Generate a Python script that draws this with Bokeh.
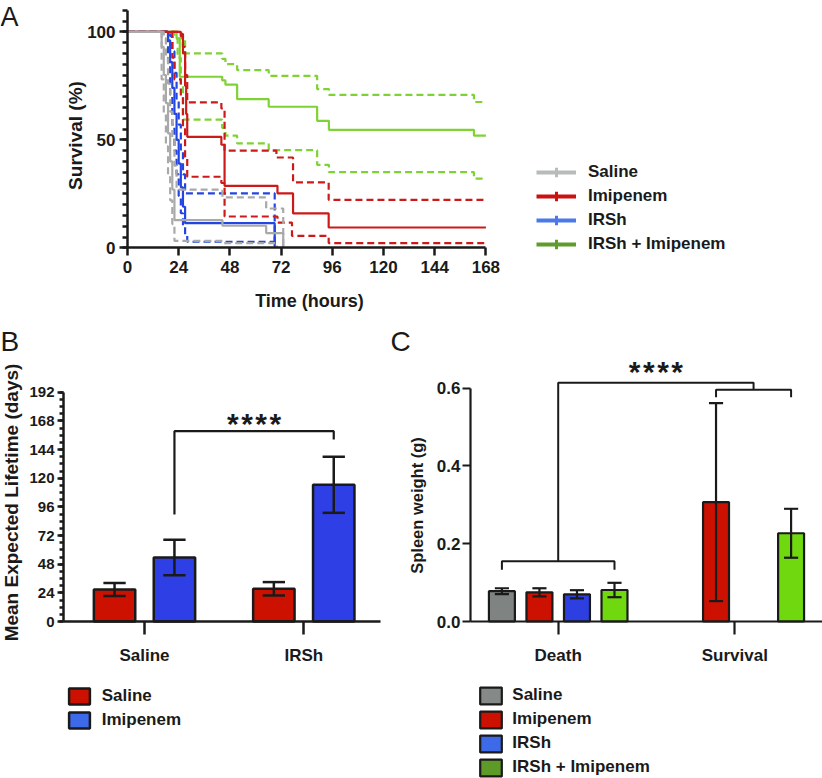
import math
from bokeh.plotting import figure
from bokeh.layouts import column, row
from bokeh.models import (Range1d, FixedTicker, Legend, LegendItem, Label, NumeralTickFormatter)
from bokeh.core.properties import value
from bokeh.embed import file_html
from bokeh.resources import INLINE

FONT = "Liberation Sans"
INK = "#1a1a1a"

# ---------------- Panel A : Kaplan-Meier survival (median + CI bounds) ----------------
surv_labels = ["Saline", "Imipenem", "IRSh", "IRSh + Imipenem"]
time_ticks = [0, 24, 48, 72, 96, 120, 144, 168]
surv_ticks = [0, 50, 100]

saline_mid_t = [0, 16, 17, 18, 19, 20, 21, 22, 44.5, 65, 73]
saline_mid_s = [100, 93, 80, 67, 53, 40, 27, 12.8, 10.2, 6.8, 0]
saline_hi_t = [0, 17, 18, 19, 20, 21, 22, 23, 44.5, 65, 73]
saline_hi_s = [100, 97, 88, 76, 63, 50, 38, 26.9, 23.3, 18.2, 0]
saline_lo_t = [0, 16, 17, 18, 19, 20, 21, 22, 44.5, 70]
saline_lo_s = [100, 78, 62, 47, 34, 22, 11, 3.2, 2.2, 0]

irsh_mid_t = [0, 19, 20, 21, 22, 23, 24, 25, 26, 27, 69]
irsh_mid_s = [100, 96, 86, 74, 62, 50, 39, 28, 19, 11.4, 0]
irsh_hi_t = [0, 20, 21, 22, 23, 24, 25, 26, 27, 69]
irsh_hi_s = [100, 98, 91, 81, 69, 57, 45, 34, 25.2, 0]
irsh_lo_t = [0, 19, 20, 21, 22, 23, 24, 25, 26, 27, 28, 69]
irsh_lo_s = [100, 86, 71, 57, 45, 34, 24, 16, 10, 5.5, 2.8, 0]

imip_mid_t = [0, 25, 26, 27, 27.5, 28, 44, 45.5, 70.3, 77.6, 94.3, 168]
imip_mid_s = [100, 98, 90, 75, 62, 51.4, 47.7, 28.7, 25.2, 15.9, 9.4, 9.4]
imip_hi_t = [0, 25, 26, 27, 28, 44, 45.5, 69.8, 77.6, 94.3, 168]
imip_hi_s = [100, 99, 93, 80, 67.3, 64.5, 45, 41.8, 30.3, 22.2, 22.2]
imip_lo_t = [0, 21, 22, 25, 26, 27, 28, 44, 45.5, 70.3, 77.1, 94.3, 168]
imip_lo_s = [100, 88, 78, 70, 55, 42, 32.9, 30, 14.5, 11.7, 5.5, 2.2, 2.2]

combo_mid_t = [0, 23, 24.5, 44.4, 45.9, 51.4, 66.2, 88.9, 94.4, 162.4, 168]
combo_mid_s = [100, 97, 79.2, 77.5, 75.5, 68.8, 65.3, 58.8, 54.6, 51.9, 51.9]
combo_hi_t = [0, 24, 25, 27, 44.4, 45.9, 51.4, 66.2, 88.9, 94.4, 162.4, 168]
combo_hi_s = [100, 99, 97, 90, 87.5, 85, 82.3, 79.6, 73.5, 70.8, 67.5, 67.5]
combo_lo_t = [0, 22, 23.5, 25, 26, 44.4, 45.9, 51.4, 66.2, 88.9, 94.4, 162.4, 168]
combo_lo_s = [100, 97, 88, 76, 59.3, 55.5, 51.9, 48.3, 45.2, 38.4, 35, 32, 32]

# ---------------- Panel B : mean expected lifetime ----------------
b_groups = ["Saline", "IRSh"]
b_treatments = ["Saline", "Imipenem"]
b_saline_mean = [26.8, 27.4]
b_saline_err = [5.5, 5.6]
b_imip_mean = [53.6, 114.5]
b_imip_err = [14.8, 23.5]
b_ticks = [0, 24, 48, 72, 96, 120, 144, 168, 192]
b_sig_ends = [89.6, 152.4]
b_sig_top = 159.4
SIG = "*\u200a*\u200a*\u200a*"

# ---------------- Panel C : spleen weight ----------------
c_groups = ["Death", "Survival"]
c_treatments = ["Saline", "Imipenem", "IRSh", "IRSh + Imipenem"]
c_death_mean = [0.078, 0.075, 0.070, 0.081]
c_death_err = [0.0075, 0.0105, 0.0105, 0.0185]
c_surv_mean = [None, 0.307, None, 0.227]
c_surv_err = [None, 0.2545, None, 0.063]
c_ticks = [0.0, 0.2, 0.4, 0.6]
c_low_bracket = [0.133, 0.155]
c_top_bracket = 0.614
c_small_bracket = [0.577, 0.596]

# ---------------- styling ----------------
curve_colors = ["#a9a9a9", "#cc1a1a", "#2446e0", "#7fd234"]
legA_colors = ["#b7bcba", "#cc1111", "#4a7ae8", "#5e9c2c"]
b_colors = ["#cc1100", "#2e3fe5"]
b_leg_colors = ["#cc1100", "#3d6ae8"]
c_colors = ["#7f8482", "#cc1100", "#2d3fe0", "#6fd80f"]
c_leg_colors = ["#858a88", "#cc1100", "#3d6ae8", "#5e9a28"]


def style_axis(ax, size, lw=2.5):
    ax.axis_line_width = lw
    ax.axis_line_color = INK
    ax.major_tick_line_width = lw
    ax.minor_tick_line_width = lw
    ax.major_tick_line_color = INK
    ax.minor_tick_line_color = INK
    ax.major_tick_in = 0
    ax.minor_tick_in = 0
    ax.major_label_text_font = FONT
    ax.major_label_text_font_style = "bold"
    ax.major_label_text_font_size = f"{size}px"
    ax.major_label_text_color = INK


def base_fig(w, h, xr, yr):
    # frame covers the whole canvas; axes are pinned with fixed_location
    p = figure(width=w, height=h, x_range=Range1d(*xr), y_range=Range1d(*yr),
               output_backend="svg", toolbar_location=None,
               min_border_left=0, min_border_right=0, min_border_top=0, min_border_bottom=0)
    p.outline_line_color = None
    p.grid.visible = False
    p.background_fill_color = "white"
    p.border_fill_color = "white"
    return p


def text_label(p, text, sx, sy, size, angle=0.0, bold=True, align="center"):
    # sx, sy: pixels from the canvas left / top (text centred vertically on sy)
    p.add_layout(Label(x=sx, y=p.height - sy, x_units="screen", y_units="screen", text=text,
                       angle=angle, text_align=align, text_baseline="middle",
                       text_font=FONT, text_font_size=f"{size}px",
                       text_font_style="bold" if bold else "normal", text_color=INK))


def legend(items, loc, gw, gh, sp, standoff):
    return Legend(items=items, location=loc, orientation="vertical",
                  glyph_width=gw, glyph_height=gh, label_height=gh, spacing=sp, padding=0, margin=0,
                  label_standoff=standoff, border_line_color=None, background_fill_alpha=0,
                  inactive_fill_alpha=0,
                  label_text_font=FONT, label_text_font_style="bold", label_text_font_size="17px",
                  label_text_color=INK)


def stars(p, x, y, dy):
    p.text(x=[x], y=[y], y_offset=[dy], text=[SIG], text_align="center", text_baseline="middle",
           text_font=value(FONT), text_font_style="bold", text_font_size="30px", text_color=INK)


# ================= Figure A =================
A_W, A_H = 822, 326
ax_px = 51.2 / 24          # px per hour
ay_px = 2.16               # px per percent
A_x0, A_y0 = 127, 247.3    # pixel position of (0, 0)
pA = base_fig(A_W, A_H, (-A_x0 / ax_px, (A_W - A_x0) / ax_px), (-(A_H - A_y0) / ay_px, A_y0 / ay_px))
style_axis(pA.xaxis[0], 17)
style_axis(pA.yaxis[0], 17)
pA.xaxis.fixed_location = 0
pA.xaxis.ticker = FixedTicker(ticks=time_ticks)
pA.xaxis.bounds = (0, 168)
pA.xaxis.major_tick_out = 8
pA.xaxis.major_label_standoff = 5
pA.yaxis.fixed_location = 0
pA.yaxis.ticker = FixedTicker(ticks=surv_ticks, minor_ticks=list(range(0, 111, 5)))
pA.yaxis.bounds = (0, 110)
pA.yaxis.major_tick_out = 8
pA.yaxis.minor_tick_out = 5
pA.yaxis.major_label_standoff = 4

curves = [
    (combo_lo_t, combo_lo_s, 3, True), (combo_hi_t, combo_hi_s, 3, True), (combo_mid_t, combo_mid_s, 3, False),
    (irsh_lo_t, irsh_lo_s, 2, True), (irsh_hi_t, irsh_hi_s, 2, True), (irsh_mid_t, irsh_mid_s, 2, False),
    (imip_lo_t, imip_lo_s, 1, True), (imip_hi_t, imip_hi_s, 1, True), (imip_mid_t, imip_mid_s, 1, False),
    (saline_lo_t, saline_lo_s, 0, True), (saline_hi_t, saline_hi_s, 0, True), (saline_mid_t, saline_mid_s, 0, False),
]
for t, s, gi, dashed in curves:
    pA.step(t, s, mode="after", line_color=curve_colors[gi], line_width=2.2,
            line_dash="7 4" if dashed else "solid")

itemsA = []
for lab, col in zip(surv_labels, legA_colors):
    r1 = pA.line([0, 1], [0, 0], line_color=col, line_width=4, visible=False)
    r2 = pA.scatter([0], [0], marker="cross", line_color=col, line_width=3, size=10, visible=False)
    itemsA.append(LegendItem(label=lab, renderers=[r1, r2]))
pA.add_layout(legend(itemsA, (536, A_H - 255.5), 40, 24, 0, 12))
text_label(pA, "Time (hours)", 309, 300, 18)
text_label(pA, "Survival (%)", 75, 135, 19, angle=math.pi / 2)
text_label(pA, "A", 0, 16.5, 27, bold=False, align="left")

# ================= Figure B =================
TOP2 = A_H                 # page y of the second row
B_W, B_H = 390, 778 - TOP2
bx_px = 159.3              # px per group
by_px = 1.194              # px per day-unit
B_x0, B_y0 = 144, 621 - TOP2
pB = base_fig(B_W, B_H, (-B_x0 / bx_px, (B_W - B_x0) / bx_px), (-(B_H - B_y0) / by_px, B_y0 / by_px))
b_left = (63 - B_x0) / bx_px
b_right = (380 - B_x0) / bx_px
style_axis(pB.xaxis[0], 17)
style_axis(pB.yaxis[0], 15)
pB.xaxis.fixed_location = 0
pB.xaxis.bounds = (b_left, b_right)
pB.xaxis.ticker = FixedTicker(ticks=list(range(len(b_groups))))
pB.xaxis.major_label_overrides = {i: g for i, g in enumerate(b_groups)}
pB.xaxis.major_tick_out = 13
pB.xaxis.major_label_standoff = 11
pB.yaxis.fixed_location = b_left
pB.yaxis.bounds = (0, 192)
pB.yaxis.ticker = FixedTicker(ticks=b_ticks, minor_ticks=list(range(0, 193, 6)))
pB.yaxis.major_tick_out = 6
pB.yaxis.minor_tick_out = 4
pB.yaxis.major_label_standoff = 3

b_off = 0.188
b_w = 0.26
b_cap = 0.07
b_series = [(b_saline_mean, b_saline_err, -b_off), (b_imip_mean, b_imip_err, b_off)]
itemsB = []
for k, (m, e, off) in enumerate(b_series):
    xs = [i + off for i in range(len(b_groups))]
    pB.vbar(x=xs, top=m, width=b_w, fill_color=b_colors[k], line_color=INK, line_width=2.5)
    lo = [mm - ee for mm, ee in zip(m, e)]
    hi = [mm + ee for mm, ee in zip(m, e)]
    pB.segment(x0=xs, y0=lo, x1=xs, y1=hi, line_color=INK, line_width=2.5)
    pB.segment(x0=[x - b_cap for x in xs], y0=hi, x1=[x + b_cap for x in xs], y1=hi, line_color=INK, line_width=2.5)
    pB.segment(x0=[x - b_cap for x in xs], y0=lo, x1=[x + b_cap for x in xs], y1=lo, line_color=INK, line_width=2.5)
    rl = pB.vbar(x=[0], top=[1], width=b_w, fill_color=b_leg_colors[k], line_color=INK, line_width=2.5,
                 visible=False)
    itemsB.append(LegendItem(label=b_treatments[k], renderers=[rl]))

bx0, bx1 = 0 + b_off, 1 + b_off
pB.line([bx0, bx0, bx1, bx1], [b_sig_ends[0], b_sig_top, b_sig_top, b_sig_ends[1]], line_color=INK, line_width=2.2)
stars(pB, (bx0 + bx1) / 2, b_sig_top, -8)
pB.add_layout(legend(itemsB, (65.7, B_H - (730 - TOP2)), 26, 20, 4, 10))
text_label(pB, "Mean Expected Lifetime (days)", 11, 502 - TOP2, 19, angle=math.pi / 2)
text_label(pB, "B", 0, 341 - TOP2, 28, bold=False, align="left")

# ================= Figure C =================
C_W, C_H = 432, 778 - TOP2
cx_px = 176.6              # px per group
cy_px = 388.8              # px per gram
C_x0, C_y0 = 167.7, 621 - TOP2
pC = base_fig(C_W, C_H, (-C_x0 / cx_px, (C_W - C_x0) / cx_px), (-(C_H - C_y0) / cy_px, C_y0 / cy_px))
c_left = (80 - C_x0) / cx_px
c_right = (C_W - C_x0) / cx_px
style_axis(pC.xaxis[0], 17, lw=2.2)
style_axis(pC.yaxis[0], 17, lw=2.2)
pC.xaxis.fixed_location = 0
pC.xaxis.bounds = (c_left, c_right)
pC.xaxis.ticker = FixedTicker(ticks=list(range(len(c_groups))))
pC.xaxis.major_label_overrides = {i: g for i, g in enumerate(c_groups)}
pC.xaxis.major_tick_out = 13
pC.xaxis.major_label_standoff = 11
pC.yaxis.fixed_location = c_left
pC.yaxis.ticker = FixedTicker(ticks=c_ticks, minor_ticks=[])
pC.yaxis.bounds = (0, 0.6)
pC.yaxis.formatter = NumeralTickFormatter(format="0.0")
pC.yaxis.major_tick_out = 8
pC.yaxis.major_label_standoff = 2

c_step = 0.2125
c_w = 0.147
c_cap = 0.04
slots = [(k - 1.5) * c_step for k in range(len(c_treatments))]
itemsC = []
for k in range(len(c_treatments)):
    xs, m, e = [], [], []
    for gi, (mv, ev) in enumerate([(c_death_mean[k], c_death_err[k]), (c_surv_mean[k], c_surv_err[k])]):
        if mv is not None:
            xs.append(gi + slots[k]); m.append(mv); e.append(ev)
    pC.vbar(x=xs, top=m, width=c_w, fill_color=c_colors[k], line_color=INK, line_width=2.2)
    lo = [mm - ee for mm, ee in zip(m, e)]
    hi = [mm + ee for mm, ee in zip(m, e)]
    pC.segment(x0=xs, y0=lo, x1=xs, y1=hi, line_color=INK, line_width=2.2)
    pC.segment(x0=[x - c_cap for x in xs], y0=hi, x1=[x + c_cap for x in xs], y1=hi, line_color=INK, line_width=2.2)
    pC.segment(x0=[x - c_cap for x in xs], y0=lo, x1=[x + c_cap for x in xs], y1=lo, line_color=INK, line_width=2.2)
    rl = pC.vbar(x=[0], top=[0.1], width=c_w, fill_color=c_leg_colors[k], line_color=INK, line_width=2.2,
                 visible=False)
    itemsC.append(LegendItem(label=c_treatments[k], renderers=[rl]))

gx_l, gx_r = 0 + slots[0], 0 + slots[3]
pC.line([gx_l, gx_l, gx_r, gx_r], [c_low_bracket[0], c_low_bracket[1], c_low_bracket[1], c_low_bracket[0]],
        line_color=INK, line_width=2.0)
sx_l, sx_r = 1 + slots[1], 1 + slots[3]
smid = (sx_l + sx_r) / 2
pC.line([sx_l, sx_l, sx_r, sx_r], [c_small_bracket[0], c_small_bracket[1], c_small_bracket[1], c_small_bracket[0]],
        line_color=INK, line_width=2.0)
pC.line([0, 0, smid, smid], [c_low_bracket[1], c_top_bracket, c_top_bracket, c_small_bracket[1]],
        line_color=INK, line_width=2.0)
stars(pC, smid / 2, c_top_bracket, -11)
pC.add_layout(legend(itemsC, (87.3, C_H - (777.5 - TOP2)), 27, 21, 3, 8))
text_label(pC, "Spleen weight (g)", 26.7, 505 - TOP2, 16.5, angle=math.pi / 2)
text_label(pC, "C", 0, 341 - TOP2, 28, bold=False, align="left")

layout = column(pA, row(pB, pC))
open("out.html", "w").write(file_html(layout, INLINE))
